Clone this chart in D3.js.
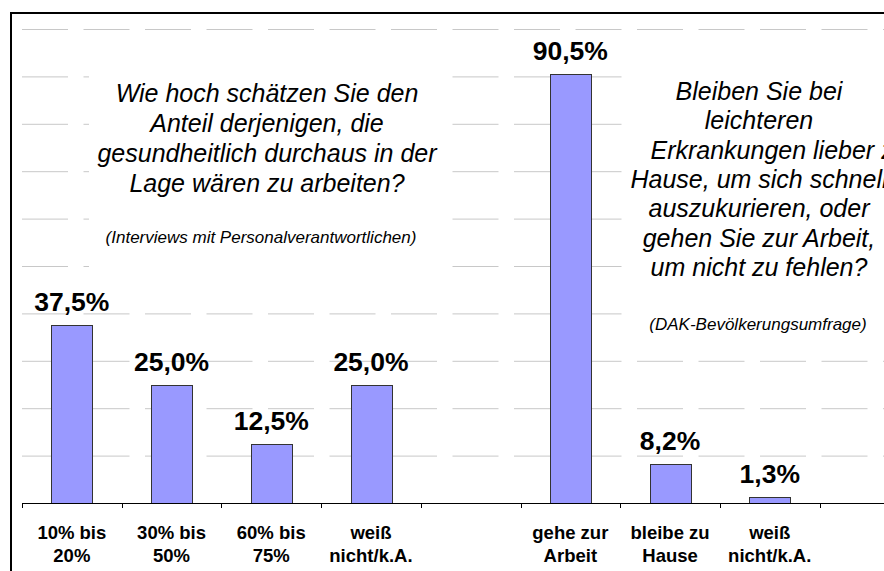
<!DOCTYPE html>
<html>
<head>
<meta charset="utf-8">
<script src="https://cdn.jsdelivr.net/npm/d3@7"></script>
<style>
  body { margin: 0; background: #fff; overflow: hidden; }
  svg { display: block; font-family: Arial, "Liberation Sans", sans-serif; }
</style>
</head>
<body>
<svg id="chart" width="884" height="571"></svg>
<script>
// categories (two lines each), blanks are empty slots between the two groups
var categories = [
  ["10% bis", "20%"], ["30% bis", "50%"], ["60% bis", "75%"], ["weiß", "nicht/k.A."], ["", ""],
  ["gehe zur", "Arbeit"], ["bleibe zu", "Hause"], ["weiß", "nicht/k.A."], ["", ""]
];
var values = [37.5, 25.0, 12.5, 25.0, null, 90.5, 8.2, 1.3, null];
var yTicks = [10, 20, 30, 40, 50, 60, 70, 80, 90, 100];

var leftQuestion = ["Wie hoch schätzen Sie den", "Anteil derjenigen, die", "gesundheitlich durchaus in der", "Lage wären zu arbeiten?"];
var leftSource = "(Interviews mit Personalverantwortlichen)";
var rightQuestion = ["Bleiben Sie bei", "leichteren", "Erkrankungen lieber zu", "Hause, um sich schnell", "auszukurieren, oder", "gehen Sie zur Arbeit,", "um nicht zu fehlen?"];
var rightSource = "(DAK-Bevölkerungsumfrage)";

var svg = d3.select("#chart");
var left = 22, step = 99.7;
var x = d3.scaleBand()
  .domain(d3.range(categories.length))
  .range([left, left + step * categories.length])
  .paddingInner(0.59)
  .paddingOuter(0.295);
var y = d3.scaleLinear().domain([0, 100]).range([503, 29]);

var de = d3.formatLocale({ decimal: ",", thousands: ".", grouping: [3], currency: ["", " €"] });
var fmt = de.format(".1f");

// gridlines
svg.append("g").selectAll("line")
  .data(yTicks)
  .join("line")
  .attr("x1", left).attr("x2", 900)
  .attr("y1", function (d) { return y(d) + 0.5 })
  .attr("y2", function (d) { return y(d) + 0.5 })
  .attr("stroke", "#c8c8c8")
  .attr("stroke-dasharray", "46,15.5");

// text box backgrounds hide the grid
svg.append("rect").attr("x", 89).attr("y", 60).attr("width", 356).attr("height", 230).attr("fill", "#fff");
svg.append("rect").attr("x", 622).attr("y", 60).attr("width", 280).attr("height", 280).attr("fill", "#fff");

// question texts
function block(lines, cx, y0, dy) {
  svg.append("text")
    .attr("text-anchor", "middle")
    .attr("font-size", "25px")
    .attr("font-style", "italic")
    .attr("fill", "#000")
    .selectAll("tspan")
    .data(lines)
    .join("tspan")
    .attr("x", cx)
    .attr("y", function (d, i) { return y0 + i * dy })
    // the overflowing line sits a bit to the right in the original box
    .attr("dx", function (d) { return d == "Erkrankungen lieber zu" ? 20 : 0 })
    .text(function (d) { return d });
}
block(leftQuestion, 267, 102, 30);
block(rightQuestion, 759, 100, 29.3);

svg.append("text").attr("x", 261).attr("y", 243).attr("text-anchor", "middle")
  .attr("font-size", "17px").attr("font-style", "italic").text(leftSource);
svg.append("text").attr("x", 758).attr("y", 330).attr("text-anchor", "middle")
  .attr("font-size", "17px").attr("font-style", "italic").text(rightSource);

// bars
var barData = values.map(function (v, i) { return { i: i, v: v } }).filter(function (d) { return d.v != null });
svg.append("g").selectAll("rect")
  .data(barData)
  .join("rect")
  .attr("x", function (d) { return Math.round(x(d.i)) + 0.5 })
  .attr("y", function (d) { return Math.round(y(d.v)) + 0.5 })
  .attr("width", Math.round(x.bandwidth()))
  .attr("height", function (d) { return Math.round(y(0)) - Math.round(y(d.v)) })
  .attr("fill", "#9999ff")
  .attr("stroke", "#333")
  .attr("stroke-width", 1);

// value labels
svg.append("g").selectAll("text")
  .data(barData)
  .join("text")
  .attr("x", function (d) { return x(d.i) + x.bandwidth() / 2 })
  .attr("y", function (d) { return y(d.v) - 14 })
  .attr("text-anchor", "middle")
  .attr("font-size", "26.5px")
  .attr("font-weight", "bold")
  .text(function (d) { return fmt(d.v) + "%" });

// x axis line and ticks
svg.append("line").attr("x1", left).attr("x2", 900).attr("y1", 503.5).attr("y2", 503.5).attr("stroke", "#000");
svg.append("g").selectAll("line")
  .data(d3.range(categories.length + 1))
  .join("line")
  .attr("x1", function (d) { return Math.round(left + d * x.step()) + 0.5 })
  .attr("x2", function (d) { return Math.round(left + d * x.step()) + 0.5 })
  .attr("y1", 503).attr("y2", 508)
  .attr("stroke", "#000");

// category labels
svg.append("g").selectAll("text")
  .data(categories)
  .join("text")
  .attr("text-anchor", "middle")
  .attr("font-size", "18.5px")
  .attr("font-weight", "bold")
  .each(function (d, i) {
    d3.select(this).selectAll("tspan")
      .data(d)
      .join("tspan")
      .attr("x", x(i) + x.bandwidth() / 2)
      .attr("y", function (t, j) { return 539 + j * 23 })
      .text(function (t) { return t });
  });

// outer frame
svg.append("rect").attr("x", 11).attr("y", 13).attr("width", 1000).attr("height", 1000)
  .attr("fill", "none").attr("stroke", "#000").attr("stroke-width", 2);
</script>
</body>
</html>
